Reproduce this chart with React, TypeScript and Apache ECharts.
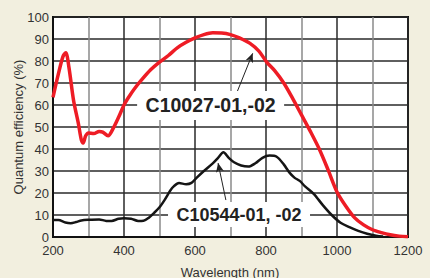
import React, { useEffect, useRef } from 'react';
import * as echarts from 'echarts';

// C10027-01,-02 (red curve)
const redWavelength = [200, 215, 228, 236, 245, 258, 271, 280, 285, 292, 300, 315, 330, 340, 355, 370, 385, 400, 415, 430, 450, 475, 500, 525, 550, 575, 600, 625, 650, 675, 700, 725, 755, 780, 802, 825, 850, 875, 900, 925, 950, 975, 1000, 1025, 1050, 1075, 1100, 1125, 1150, 1175, 1200];
const redQE = [63.5, 74, 82, 83.8, 77, 62, 52, 44, 42.7, 46, 47.3, 47, 48, 47.7, 46, 49.5, 54.5, 60, 64, 67.5, 71.5, 76, 79.5, 82.5, 86, 88.5, 90.5, 92, 92.8, 92.7, 92, 90.5, 88, 84.5, 79.5, 75.5, 70, 63, 55.5, 48, 40, 30.5, 20.5, 14, 8.7, 5.5, 3.3, 2, 1, 0.4, 0.1];

// C10544-01, -02 (black curve)
const blackWavelength = [200, 215, 235, 250, 265, 280, 300, 330, 350, 365, 385, 400, 420, 440, 455, 470, 485, 500, 515, 530, 540, 555, 575, 590, 605, 625, 650, 665, 680, 695, 710, 730, 750, 770, 790, 810, 830, 850, 865, 880, 895, 910, 935, 960, 985, 1010, 1035, 1060, 1085, 1110, 1130];
const blackQE = [7.7, 7.7, 6.6, 6.3, 6.8, 7.5, 7.8, 8, 7.3, 7.3, 8.3, 8.5, 8.3, 7.3, 7.4, 8.8, 11, 13.5, 17, 21, 23, 24.5, 24, 24.6, 27, 30, 33.5, 36, 38.5, 36, 34, 32.5, 32, 33.5, 36, 37, 36.5, 33, 29.5, 27, 25.5, 23, 19.5, 14.5, 10, 6.5, 4.5, 2.8, 1.5, 0.6, 0.2];

const xTicks = [200, 400, 600, 800, 1000, 1200];
const yTicks = [0, 10, 20, 30, 40, 50, 60, 70, 80, 90, 100];

const redLabel = 'C10027-01,-02';
const blackLabel = 'C10544-01, -02';
const yName = 'Quantum efficiency (%)';
const xName = 'Wavelength (nm)';

const FONT = '"Liberation Sans", Arial, Helvetica, sans-serif';

export default function App() {
  const ref = useRef<HTMLDivElement>(null);
  useEffect(() => {
    if (!ref.current) return;
    const chart = echarts.init(ref.current, undefined, { renderer: 'svg' });
    const redData = redWavelength.map((w, i) => [w, redQE[i]]);
    const blackData = blackWavelength.map((w, i) => [w, blackQE[i]]);
    chart.setOption({
      animation: false,
      backgroundColor: '#f2efdf',
      textStyle: { fontFamily: FONT },
      grid: {
        left: 53, right: 22, top: 17, bottom: 41,
        show: true, backgroundColor: '#ffffff', borderColor: '#111', borderWidth: 2,
      },
      xAxis: {
        type: 'value', min: 200, max: 1200, interval: 100,
        axisLine: { show: true, lineStyle: { color: '#111', width: 2 } },
        axisTick: { show: false },
        axisLabel: {
          fontSize: 13, color: '#333', margin: 7, fontFamily: FONT,
          formatter: (v: number) => (xTicks.includes(v) ? String(v) : ''),
        },
        splitLine: { show: true, lineStyle: { color: ['#2a2a2a', '#8a8a8a'], width: 1.5 } },
      },
      yAxis: {
        type: 'value', min: 0, max: 100, interval: 10,
        axisLine: { show: true, lineStyle: { color: '#111', width: 2 } },
        axisTick: { show: false },
        axisLabel: {
          fontSize: 13, color: '#333', margin: 4, fontFamily: FONT,
          formatter: (v: number) => (yTicks.includes(v) ? String(v) : ''),
        },
        splitLine: { show: true, lineStyle: { color: '#2a2a2a', width: 1.5 } },
      },
      series: [
        {
          type: 'line', data: blackData, smooth: 0.3, showSymbol: false,
          lineStyle: { color: '#151515', width: 2.5 }, z: 3,
          markLine: {
            silent: true, symbol: ['none', 'arrow'], symbolSize: [6, 9],
            label: { show: false },
            lineStyle: { color: '#222', width: 1, type: 'solid' },
            data: [
              [{ coord: [717, 65.3] }, { coord: [762.5, 83.5] }],
              [{ coord: [687, 16.8] }, { coord: [665, 33.6] }],
            ],
          },
        },
        {
          type: 'line', data: redData, smooth: 0.3, showSymbol: false,
          lineStyle: { color: '#ee1c25', width: 3.5 }, z: 4,
          markPoint: {
            silent: true,
            data: [
              {
                coord: [644, 59.8], symbol: 'rect', symbolSize: [147, 29],
                itemStyle: { color: '#ffffff' },
                label: { show: true, position: 'inside', formatter: redLabel, color: '#222', fontSize: 19.5, fontWeight: 'bold', fontFamily: FONT },
              },
              {
                coord: [724, 10.2], symbol: 'rect', symbolSize: [142, 25],
                itemStyle: { color: '#ffffff' },
                label: { show: true, position: 'inside', formatter: blackLabel, color: '#222', fontSize: 18, fontWeight: 'bold', fontFamily: FONT },
              },
            ],
          },
        },
      ],
      graphic: [
        {
          type: 'text', x: 18, y: 127, rotation: Math.PI / 2,
          style: { text: yName, fontSize: 13, fill: '#333', align: 'center', verticalAlign: 'middle', fontFamily: FONT },
        },
        {
          type: 'text', x: 230, y: 272,
          style: { text: xName, fontSize: 13, fill: '#333', align: 'center', verticalAlign: 'middle', fontFamily: FONT },
        },
      ],
    });
    return () => chart.dispose();
  }, []);
  return (
    <div
      ref={ref}
      style={{ position: 'fixed', left: 0, top: 0, width: 430, height: 278, background: '#f2efdf' }}
    />
  );
}
